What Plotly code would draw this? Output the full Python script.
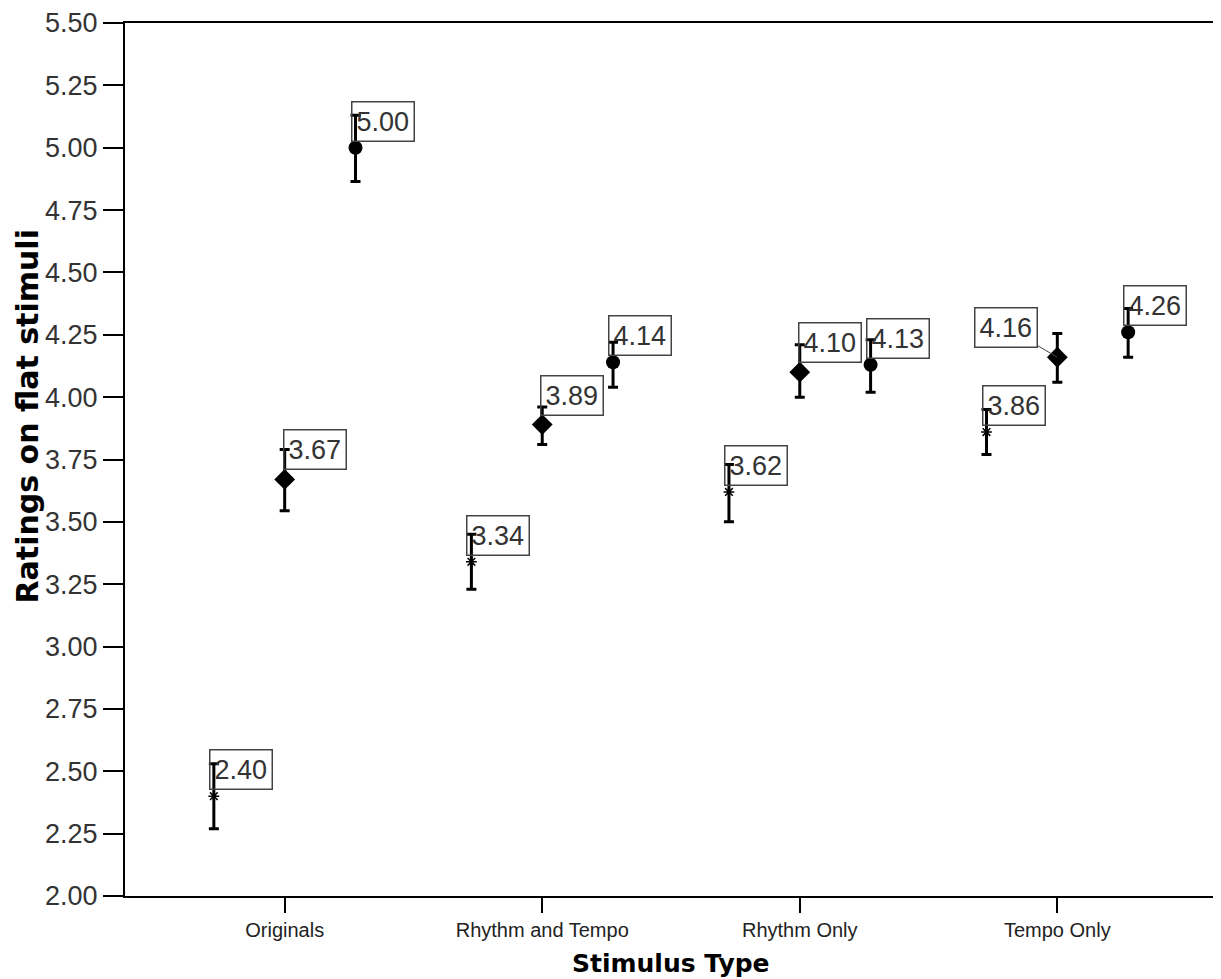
import plotly.graph_objects as go

categories = ["Originals", "Rhythm and Tempo", "Rhythm Only", "Tempo Only"]

# Series 1 (asterisk markers, left)
s1_mean = [2.40, 3.34, 3.62, 3.86]
s1_low = [2.27, 3.23, 3.50, 3.77]
s1_high = [2.53, 3.45, 3.73, 3.95]

# Series 2 (diamond markers, centre)
s2_mean = [3.67, 3.89, 4.10, 4.16]
s2_low = [3.545, 3.81, 4.00, 4.06]
s2_high = [3.79, 3.96, 4.21, 4.255]

# Series 3 (circle markers, right)
s3_mean = [5.00, 4.14, 4.13, 4.26]
s3_low = [4.865, 4.04, 4.02, 4.16]
s3_high = [5.13, 4.22, 4.23, 4.355]

y_ticks = [2.00, 2.25, 2.50, 2.75, 3.00, 3.25, 3.50, 3.75, 4.00, 4.25, 4.50, 4.75, 5.00, 5.25, 5.50]

OFFSET = 0.275
series = [
    dict(mean=s1_mean, low=s1_low, high=s1_high, off=-OFFSET,
         marker=dict(symbol="asterisk-open", size=9, color="black", line=dict(color="black", width=1.5)),
         xshift=-5, yshift=6),
    dict(mean=s2_mean, low=s2_low, high=s2_high, off=0.0,
         marker=dict(symbol="diamond", size=16, color="black"),
         xshift=-2, yshift=9),
    dict(mean=s3_mean, low=s3_low, high=s3_high, off=OFFSET,
         marker=dict(symbol="circle", size=14, color="black"),
         xshift=-5, yshift=6),
]

fig = go.Figure()
annotations = []
label_font = dict(family="Liberation Sans, Arial, sans-serif", size=27, color="#333333")

for si, s in enumerate(series):
    xs = [i + s["off"] for i in range(len(categories))]
    plus = [h - m for h, m in zip(s["high"], s["mean"])]
    minus = [m - l for m, l in zip(s["mean"], s["low"])]
    fig.add_trace(go.Scatter(
        x=xs, y=s["mean"], mode="markers",
        marker=s["marker"],
        error_y=dict(type="data", symmetric=False, array=plus, arrayminus=minus,
                     color="black", thickness=3, width=5),
        showlegend=False, hoverinfo="skip",
    ))
    for i, (x, m) in enumerate(zip(xs, s["mean"])):
        txt = f"{m:.2f}"
        if si == 1 and i == 3:
            annotations.append(dict(
                x=x, y=m, xref="x", yref="y", text=txt, showarrow=True,
                arrowhead=0, arrowwidth=1, arrowcolor="#444444",
                ax=-51, ay=-30, font=label_font,
                bordercolor="#444444", borderwidth=1.5, borderpad=4,
                bgcolor="rgba(0,0,0,0)",
            ))
        else:
            annotations.append(dict(
                x=x, y=m, xref="x", yref="y", text=txt, showarrow=False,
                xanchor="left", yanchor="bottom",
                xshift=s["xshift"], yshift=s["yshift"], font=label_font,
                bordercolor="#444444", borderwidth=1.5, borderpad=4,
                bgcolor="rgba(0,0,0,0)",
            ))

annotations.append(dict(
    text="<b>Stimulus Type</b>", xref="paper", yref="paper", x=0.5, y=-0.077,
    xanchor="center", yanchor="middle", showarrow=False,
    font=dict(family="DejaVu Sans, Verdana, sans-serif", size=25, color="black"),
))
annotations.append(dict(
    text="<b>Ratings on flat stimuli</b>", xref="paper", yref="paper", x=-0.089, y=0.549,
    xanchor="center", yanchor="middle", showarrow=False, textangle=-90,
    font=dict(family="DejaVu Sans, Verdana, sans-serif", size=30, color="black"),
))

# page body has an 8px margin, so the figure is sized to fit inside the window
fig.update_layout(
    width=1213, height=971,
    margin=dict(l=117, r=4, t=15, b=83),
    paper_bgcolor="white", plot_bgcolor="white",
    annotations=annotations,
    xaxis=dict(
        range=[-0.62, 3.62], tickvals=list(range(len(categories))), ticktext=categories,
        showgrid=False, zeroline=False, showline=True, mirror=True, automargin=False,
        linecolor="black", linewidth=2, ticks="outside", ticklen=15, tickwidth=2,
        tickcolor="black",
        tickfont=dict(family="Liberation Sans, Arial, sans-serif", size=20, color="#222222"),
    ),
    yaxis=dict(
        range=[2.0, 5.5], tickvals=y_ticks, tickformat=".2f",
        showgrid=False, zeroline=False, showline=True, mirror=True, automargin=False,
        linecolor="black", linewidth=2, ticks="outside", ticklen=20, tickwidth=2,
        tickcolor="black",
        tickfont=dict(family="Liberation Sans, Arial, sans-serif", size=27, color="#333333"),
    ),
)

fig.write_html("out.html")
